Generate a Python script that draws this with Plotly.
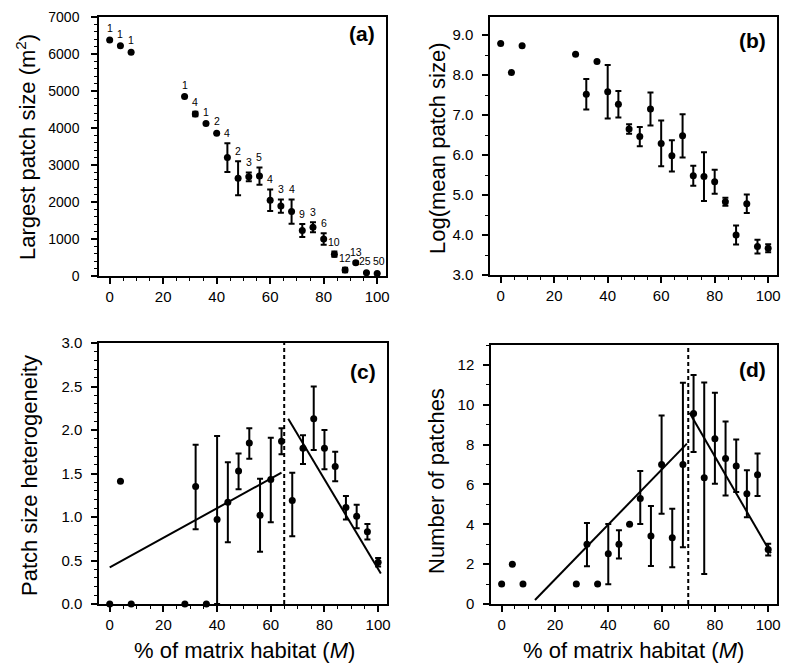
import plotly.graph_objects as go

# ---------------- data ----------------
M = [0, 4, 8, 28, 32, 36, 40, 44, 48, 52, 56, 60, 64, 68, 72, 76, 80, 84, 88, 92, 96, 100]
n_labels = ["1", "1", "1", "1", "4", "1", "2", "4", "2", "3", "5", "4", "3", "4", "9", "3", "6", "10", "12", "13", "25", "50"]

largest = [6380, 6220, 6050, 4850, 4380, 4120, 3860, 3200, 2640, 2680, 2700, 2050, 1890, 1740,
           1230, 1320, 1000, 590, 160, 360, 85, 70]
largest_err = [0, 0, 0, 0, 60, 0, 0, 390, 460, 120, 235, 290, 180, 330, 175, 135, 157, 70, 60, 30, 0, 0]

logmean = [8.79, 8.06, 8.73, 8.52, 7.52, 8.34, 7.58, 7.27, 6.65, 6.46, 7.15, 6.29, 5.98, 6.48,
           5.48, 5.46, 5.33, 4.83, 4.00, 4.78, 3.71, 3.67]
logmean_err = [0, 0, 0, 0, 0.38, 0, 0.67, 0.33, 0.12, 0.24, 0.41, 0.57, 0.39, 0.54,
               0.25, 0.61, 0.30, 0.10, 0.24, 0.23, 0.17, 0.10]

hetero = [0, 1.41, 0, 0, 1.35, 0, 0.97, 1.17, 1.53, 1.85, 1.02, 1.43, 1.87, 1.19,
          1.79, 2.13, 1.79, 1.58, 1.11, 1.01, 0.83, 0.48]
hetero_err_plus = [0, 0, 0, 0, 0.48, 0, 0.96, 0.46, 0.20, 0.17, 0.42, 0.48, 0.15, 0.32,
                   0.15, 0.37, 0.21, 0.17, 0.13, 0.13, 0.09, 0.05]
hetero_err_minus = [0, 0, 0, 0, 0.49, 0, 0.97, 0.46, 0.21, 0.18, 0.42, 0.49, 0.15, 0.41,
                    0.18, 0.36, 0.24, 0.17, 0.14, 0.14, 0.09, 0.05]

npatch = [1, 2, 1, 1, 3.0, 1, 2.52, 3.0, 4.0, 5.29, 3.41, 7.0, 3.32, 7.0,
          9.56, 6.34, 8.30, 7.30, 6.93, 5.54, 6.49, 2.73]
npatch_err_plus = [0, 0, 0, 0, 1.07, 0, 1.49, 0.70, 0, 1.39, 1.51, 2.46, 1.46, 4.10,
                   1.93, 4.78, 2.30, 1.86, 1.33, 1.17, 1.06, 0.29]
npatch_err_minus = [0, 0, 0, 0, 1.11, 0, 1.53, 0.72, 0, 1.28, 1.50, 2.47, 1.47, 4.15,
                    1.93, 4.83, 2.26, 1.85, 1.31, 1.18, 1.07, 0.30]

# fitted regression segments and thresholds
c_fit_left_x, c_fit_left_y = [0, 64], [0.42, 1.51]
c_fit_right_x, c_fit_right_y = [66.5, 101], [2.13, 0.35]
c_threshold = 65
d_fit_left_x, d_fit_left_y = [12.5, 69.5], [0.2, 8.05]
d_fit_right_x, d_fit_right_y = [70.5, 101], [9.6, 2.55]
d_threshold = 70

x_ticks = [0, 20, 40, 60, 80, 100]
a_yticks = [0, 1000, 2000, 3000, 4000, 5000, 6000, 7000]
b_yticks = [3.0, 4.0, 5.0, 6.0, 7.0, 8.0, 9.0]
c_yticks = [0.0, 0.5, 1.0, 1.5, 2.0, 2.5, 3.0]
d_yticks = [0, 2, 4, 6, 8, 10, 12]

# ---------------- figure ----------------
W, H = 788, 668
FONT = "Liberation Sans, Arial, sans-serif"

def px_x(a, b):
    return [a / W, b / W]

def px_y(top, bottom):
    return [1 - bottom / H, 1 - top / H]

fig = go.Figure()

marker = dict(color="black", size=7)

def err(plus, minus=None):
    d = dict(type="data", array=plus, visible=True, color="black", thickness=2, width=3)
    if minus is not None:
        d["symmetric"] = False
        d["arrayminus"] = minus
    return d

fig.add_trace(go.Scatter(x=M, y=largest, mode="markers", marker=marker,
                         error_y=err(largest_err), xaxis="x", yaxis="y", cliponaxis=False))
fig.add_trace(go.Scatter(x=M, y=logmean, mode="markers", marker=marker,
                         error_y=err(logmean_err), xaxis="x2", yaxis="y2", cliponaxis=False))
fig.add_trace(go.Scatter(x=M, y=hetero, mode="markers", marker=marker,
                         error_y=err(hetero_err_plus, hetero_err_minus), xaxis="x3", yaxis="y3",
                         cliponaxis=False))
fig.add_trace(go.Scatter(x=M, y=npatch, mode="markers", marker=marker,
                         error_y=err(npatch_err_plus, npatch_err_minus), xaxis="x4", yaxis="y4",
                         cliponaxis=False))

line = dict(color="black", width=2)
for xs, ys, xa, ya in [(c_fit_left_x, c_fit_left_y, "x3", "y3"),
                       (c_fit_right_x, c_fit_right_y, "x3", "y3"),
                       (d_fit_left_x, d_fit_left_y, "x4", "y4"),
                       (d_fit_right_x, d_fit_right_y, "x4", "y4")]:
    fig.add_trace(go.Scatter(x=xs, y=ys, mode="lines", line=line, xaxis=xa, yaxis=ya,
                             cliponaxis=False))

for xv, xa, ya in [(c_threshold, "x3", "y3"), (d_threshold, "x4", "y4")]:
    fig.add_shape(type="line", x0=xv, x1=xv, y0=0, y1=1, xref=xa, yref=ya + " domain",
                  line=dict(color="black", width=2, dash="4px,3px"))

def xaxis(dom, anchor):
    return dict(domain=dom, anchor=anchor, range=[-4, 103.3], tickvals=x_ticks,
                ticks="outside", ticklen=6, tickwidth=1.5, tickcolor="black",
                minor=dict(dtick=5, tick0=0, ticks="outside", ticklen=3, tickwidth=1, tickcolor="black"),
                showline=True, linecolor="black", linewidth=1.5, mirror=True,
                showgrid=False, zeroline=False, automargin=False,
                tickfont=dict(family=FONT, size=15, color="black"))

def yaxis(dom, anchor, rng, vals, text, minor_dtick, size=15, standoff=6):
    return dict(domain=dom, anchor=anchor, range=rng, tickvals=vals, ticktext=text,
                ticks="outside", ticklen=6, tickwidth=1.5, tickcolor="black",
                minor=dict(dtick=minor_dtick, tick0=0, ticks="outside", ticklen=3, tickwidth=1,
                           tickcolor="black"),
                showline=True, linecolor="black", linewidth=1.5, mirror=True,
                showgrid=False, zeroline=False, ticklabelstandoff=standoff, automargin=False,
                tickfont=dict(family=FONT, size=size, color="black"))

fig.update_layout(
    width=W, height=H, margin=dict(l=0, r=0, t=0, b=0, autoexpand=False),
    paper_bgcolor="white", plot_bgcolor="white", showlegend=False,
    xaxis=xaxis(px_x(99, 386), "y"),
    yaxis=yaxis(px_y(17, 276), "x", [0, 7000], a_yticks, [str(v) for v in a_yticks], 200, size=14, standoff=9),
    xaxis2=xaxis(px_x(490, 777), "y2"),
    yaxis2=yaxis(px_y(17, 275), "x2", [3.0, 9.45], b_yticks, ["%.1f" % v for v in b_yticks], 0.5),
    xaxis3=xaxis(px_x(99, 387), "y3"),
    yaxis3=yaxis(px_y(343, 604), "x3", [0, 3.0], c_yticks, ["%.1f" % v for v in c_yticks], 0.1),
    xaxis4=xaxis(px_x(491, 777), "y4"),
    yaxis4=yaxis(px_y(345, 604), "x4", [0, 13.0], d_yticks, [str(v) for v in d_yticks], 1),
)

ann = []
# count labels in panel (a)
label_xshift = [0] * (len(M) - 2) + [-1, 2]
for xv, yv, e, lab, xs in zip(M, largest, largest_err, n_labels, label_xshift):
    ann.append(dict(x=xv, y=yv + e, xref="x", yref="y", text=lab, showarrow=False,
                    yanchor="bottom", yshift=(2 if e > 0 else 4), xshift=xs,
                    font=dict(family=FONT, size=10.5, color="black")))

# panel letters
for lab, xr, yr, yy in [("(a)", "x", "y", 0.935), ("(b)", "x2", "y2", 0.91),
                        ("(c)", "x3", "y3", 0.89), ("(d)", "x4", "y4", 0.905)]:
    ann.append(dict(x=0.97, y=yy, xref=xr + " domain", yref=yr + " domain", text="<b>%s</b>" % lab,
                    showarrow=False, xanchor="right", yanchor="middle",
                    font=dict(family=FONT, size=21, color="black")))

# axis titles
title_font = dict(family=FONT, size=22, color="black")
for txt, xc, yc in [("Largest patch size (m<sup>2</sup>)", 26, 147),
                    ("Log(mean patch size)", 438, 148),
                    ("Patch size heterogeneity", 30, 476),
                    ("Number of patches", 436, 481)]:
    ann.append(dict(x=xc / W, y=1 - yc / H, xref="paper", yref="paper", text=txt, textangle=-90,
                    showarrow=False, xanchor="center", yanchor="middle", font=title_font))
for xc in [244, 633]:
    ann.append(dict(x=xc / W, y=1 - 650 / H, xref="paper", yref="paper",
                    text="% of matrix habitat (<i>M</i>)", showarrow=False,
                    xanchor="center", yanchor="middle", font=title_font))

fig.update_layout(annotations=ann)

fig.write_html("out.html", config={"responsive": False, "displayModeBar": False},
               post_script="document.body.style.margin='0';document.body.style.overflow='hidden';")
